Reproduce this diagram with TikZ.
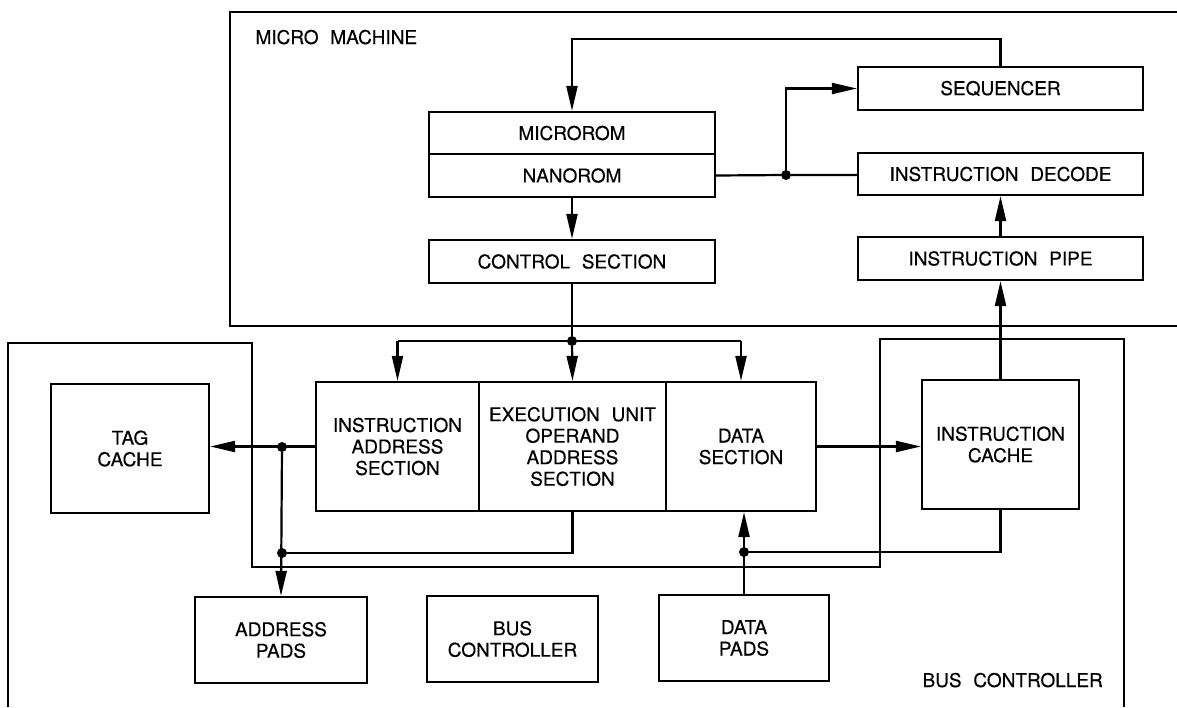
\documentclass[tikz,border=0pt]{standalone}
\usepackage{fontspec}
\setmainfont{TeX Gyre Heros}[FakeBold=0.4]
\usetikzlibrary{arrows.meta}
\newcommand\wsp{\hspace{0.62em}}
\begin{document}
\begin{tikzpicture}[x=1pt,y=-1pt,
  every node/.style={font=\fontsize{19}{21.5}\selectfont},
  box/.style={draw, line width=2.2pt, rectangle, inner sep=0pt, align=center},
  conn/.style={line width=2.2pt},
  arr/.style={conn, -{Triangle[length=25pt,width=11pt]}},
  dot/.style={circle, fill, draw=none, inner sep=0pt, minimum size=10pt},
  outline/.style={line width=2.2pt}]
\useasboundingbox (0,0) rectangle (1177,707);

% group outlines
\draw[outline] (1177,12) -- (230,12) -- (230,326) -- (1177,326);
\draw[outline] (8,707) -- (8,343) -- (252,343) -- (252,567) -- (880,567) -- (880,339) -- (1124,339) -- (1124,707);
\node[anchor=base west] (mmlabel) at (252,44) {MICRO\wsp MACHINE};
\node[anchor=base west] (bclabel) at (919,687) {BUS\wsp CONTROLLER};

% micro machine
\node[box, minimum width=286pt, minimum height=42pt] (microrom) at (572,133) {MICROROM};
\node[box, minimum width=286pt, minimum height=43pt] (nanorom) at (572,175.5) {NANOROM};
\node[box, minimum width=286pt, minimum height=43pt] (cs) at (572,261.5) {CONTROL\wsp SECTION};
\node[box, minimum width=285pt, minimum height=43pt] (seq) at (1000.5,88.5) {SEQUENCER};
\node[box, minimum width=285pt, minimum height=42pt] (id) at (1000.5,174) {INSTRUCTION\wsp DECODE};
\node[box, minimum width=285pt, minimum height=43pt] (ip) at (1000.5,258.5) {INSTRUCTION\wsp PIPE};

% execution unit row
\node[box, minimum width=158pt, minimum height=129pt] (tag) at (130,448.5) {TAG\\CACHE};
\node[box, minimum width=163pt, minimum height=129pt] (ias) at (397.5,446.5) {INSTRUCTION\\ADDRESS\\SECTION};
\node[box, minimum width=187pt, minimum height=129pt] (eu) at (572.5,446.5) {EXECUTION\wsp UNIT\\OPERAND\\ADDRESS\\SECTION};
\node[box, minimum width=150pt, minimum height=129pt] (ds) at (741,446.5) {DATA\\SECTION};
\node[box, minimum width=157pt, minimum height=129pt] (ic) at (1000.5,444.5) {INSTRUCTION\\CACHE};

% pads
\node[box, minimum width=172pt, minimum height=86pt] (ap) at (281,640) {ADDRESS\\PADS};
\node[box, minimum width=171pt, minimum height=86pt] (bc) at (512.5,639) {BUS\\CONTROLLER};
\node[box, minimum width=170pt, minimum height=86pt] (dp) at (744,638) {DATA\\PADS};

% junction dots
\node[dot] (d1) at (786,175) {};
\node[dot] (j1) at (572,341) {};
\node[dot] (j2) at (282,447) {};
\node[dot] (j3) at (282,553) {};
\node[dot] (j4) at (744,552) {};

% micro machine connectors
\draw[arr] (seq.north) -- ++(0,-27) -| (microrom.north);
\draw[conn] (nanorom.east) -- (d1) -- (d1 -| id.west);
\draw[arr] (d1) |- (seq.west);
\draw[arr] (nanorom.south) -- (cs.north);
\draw[arr] (ip.north) -- (id.south);
\draw[arr] (ic.north) -- (ip.south);

% control fan-out
\draw[conn] (cs.south) -- (j1);
\draw[conn] (ias.north |- j1) -- (ds.north |- j1);
\draw[arr] (ias.north |- j1) -- (ias.north);
\draw[arr] (j1) -- (eu.north);
\draw[arr] (ds.north |- j1) -- (ds.north);

% address side
\draw[arr] (ias.west) -- (ias.west -| tag.east);
\draw[arr] (j2) -- (ap.north);
\draw[conn] (eu.south) |- (j3);

% data side
\draw[arr] (ds.east) -- (ds.east -| ic.west);
\draw[arr] (dp.north) -- (dp.north |- ds.south);
\draw[conn] (ic.south) |- (j4);
\end{tikzpicture}
\end{document}
